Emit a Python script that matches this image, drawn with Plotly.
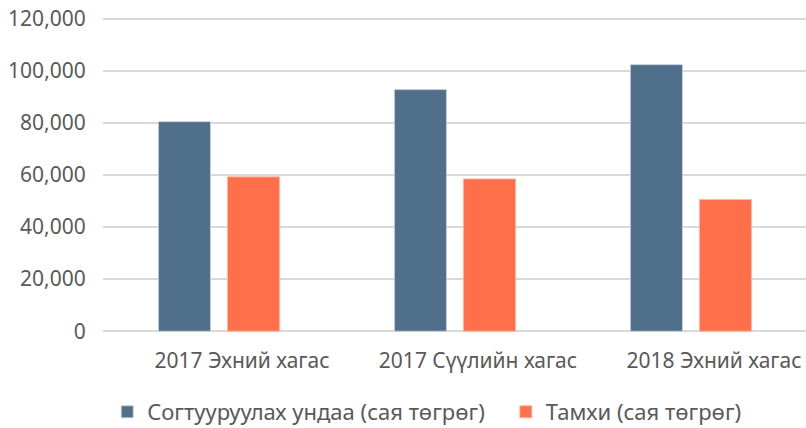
import plotly.graph_objects as go

categories = ["2017 Эхний хагас", "2017 Сүүлийн хагас", "2018 Эхний хагас"]
series_names = ["Согтууруулах ундаа (сая төгрөг)", "Тамхи (сая төгрөг)"]
alcohol = [80500, 92800, 102400]
tobacco = [59300, 58500, 50600]
y_ticks = [0, 20000, 40000, 60000, 80000, 100000, 120000]

BLUE = "#506F8A"
ORANGE = "#FF6F4A"
TEXT = "#595959"
FONT = "Noto Sans"
FS = 21
LFS = 22

fig = go.Figure()
fig.add_trace(go.Bar(x=categories, y=alcohol, name=series_names[0], legend="legend",
                     marker=dict(color=BLUE, line=dict(color="#C9D3DC", width=0.8))))
fig.add_trace(go.Bar(x=categories, y=tobacco, name=series_names[1], legend="legend2",
                     marker=dict(color=ORANGE, line=dict(color="#FFB8A5", width=0.8))))

legend_common = dict(orientation="h", xanchor="left", y=-0.25, yanchor="middle",
                     font=dict(family=FONT, size=LFS, color=TEXT), itemwidth=30,
                     bgcolor="rgba(0,0,0,0)")

fig.update_layout(
    width=806, height=428,
    margin=dict(l=103, r=0, t=17, b=95, autoexpand=False),
    paper_bgcolor="white", plot_bgcolor="white",
    barmode="group", bargap=0.415, bargroupgap=0.246,
    font=dict(family=FONT, size=FS, color=TEXT),
    showlegend=True,
    legend=dict(x=0.006, **legend_common),
    legend2=dict(x=0.573, **legend_common),
    xaxis=dict(type="category", range=[-0.4915, 2.4875], showgrid=False, showline=False,
               ticks="outside", ticklen=9, tickcolor="rgba(0,0,0,0)",
               ticklabelshift=23, automargin=False,
               tickfont=dict(family=FONT, size=FS, color=TEXT)),
    yaxis=dict(range=[-700, 120700], tickvals=y_ticks, tickformat=",d",
               showgrid=True, gridcolor="#D9D9D9", gridwidth=2,
               zeroline=False, showline=False, ticks="outside", ticklen=12,
               tickcolor="rgba(0,0,0,0)", automargin=False,
               tickfont=dict(family=FONT, size=FS, color=TEXT)),
)

fig.write_html("out.html", config={"displayModeBar": False},
               post_script="document.body.style.margin='0';")
